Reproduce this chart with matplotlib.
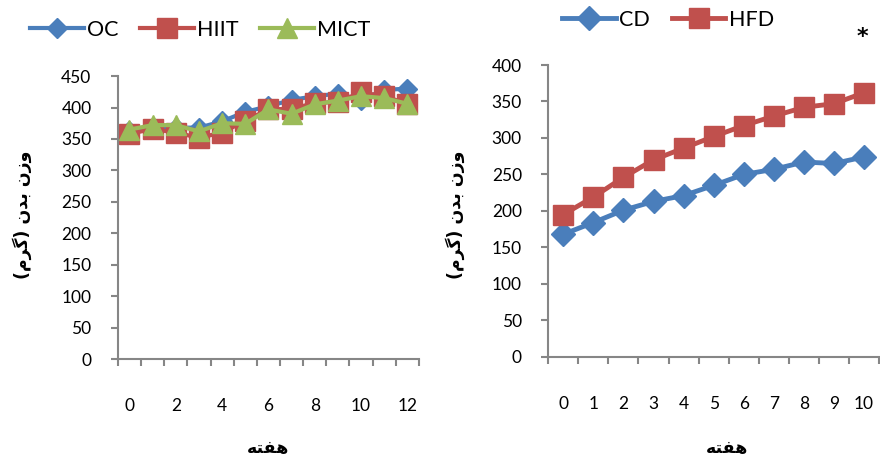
import matplotlib
matplotlib.use("Agg")
import matplotlib.pyplot as plt
import numpy as np

# ── data ────────────────────────────────────────────────────
weeks_left = list(range(13))
oc = [362, 368, 368, 368, 378, 393, 402, 412, 418, 422, 412, 428, 430]
hiit = [358, 366, 360, 352, 360, 379, 397, 398, 407, 409, 424, 418, 406]
mict = [365, 372, 372, 362, 375, 374, 397, 390, 405, 411, 418, 415, 406]

weeks_right = list(range(11))
cd = [168, 184, 201, 213, 221, 235, 250, 257, 267, 265, 274]
hfd = [195, 219, 246, 270, 286, 302, 317, 330, 342, 347, 362]

left_xlabels = ["0", "2", "4", "6", "8", "10", "12"]

# Arabic text written in visual order with presentation forms (no shaping in mpl)
xlabel_fa = "\uFEEA\uFE98\uFED4\uFEEB"  # هفته
ylabel_fa = "(\uFEE1\uFEAE\uFB94) \uFEE5\uFEAA\uFE91 \uFEE5\uFEAF\uFEED"  # وزن بدن (گرم)

BLUE = "#4a7ebb"
RED = "#c0504d"
GREEN = "#9bbb59"
GRAY = "#868686"

plt.rcParams["font.family"] = ["Lato", "DejaVu Sans"]

fig = plt.figure(figsize=(8.8, 4.61), dpi=100)
fig.patch.set_facecolor("white")

ax1 = fig.add_axes([0.134, 0.221, 0.342, 0.614])
ax2 = fig.add_axes([0.623, 0.226, 0.376, 0.633])


def style_axis(ax, n, ymax):
    for s in ("top", "right"):
        ax.spines[s].set_visible(False)
    for s in ("left", "bottom"):
        ax.spines[s].set_color(GRAY)
        ax.spines[s].set_linewidth(1.5)
    ax.set_xlim(-0.5, n - 0.5)
    ax.set_ylim(0, ymax)
    ax.set_yticks(np.arange(0, ymax + 1, 50))
    ax.tick_params(axis="y", direction="out", length=5, width=1.5,
                   color=GRAY, labelsize=12.5, pad=14)
    ax.set_xticks(np.arange(-0.5, n, 1.0), minor=True)
    ax.tick_params(axis="x", which="minor", direction="out", length=5,
                   width=1.5, color=GRAY)
    ax.tick_params(axis="x", which="major", length=0, labelsize=12.5, pad=28)


# ── left panel ──────────────────────────────────────────────
ax1.plot(weeks_left, oc, color=BLUE, lw=3, marker="D", ms=10, label="OC")
ax1.plot(weeks_left, hiit, color=RED, lw=3, marker="s", ms=14, label="HIIT")
ax1.plot(weeks_left, mict, color=GREEN, lw=3, marker="^", ms=15, label="MICT")
style_axis(ax1, len(weeks_left), 450)
ax1.set_xticks(weeks_left[::2])
ax1.set_xticklabels(left_xlabels)

fig.legend(*ax1.get_legend_handles_labels(), loc="center left",
           bbox_to_anchor=(0.012, 0.935), ncol=3, frameon=False,
           fontsize=15.5, handlelength=2.5, handletextpad=0.15,
           columnspacing=1.0)

# ── right panel ─────────────────────────────────────────────
ax2.plot(weeks_right, cd, color=BLUE, lw=3.5, marker="D", ms=12, label="CD")
ax2.plot(weeks_right, hfd, color=RED, lw=3.5, marker="s", ms=14, label="HFD")
style_axis(ax2, len(weeks_right), 400)
ax2.set_xticks(weeks_right)
ax2.set_xticklabels([str(w) for w in weeks_right])

fig.legend(*ax2.get_legend_handles_labels(), loc="center left",
           bbox_to_anchor=(0.617, 0.957), ncol=2, frameon=False,
           fontsize=15.5, handlelength=2.5, handletextpad=0.15,
           columnspacing=1.0)

fig.text(862 / 880, 1 - 37 / 461, "*", fontsize=16, fontweight="bold",
         ha="center", va="center", family="DejaVu Sans")

# axis titles
for x in (22, 455):
    fig.text(x / 880, 1 - 215 / 461, ylabel_fa, rotation=90, fontsize=12.5,
             fontweight="bold", ha="center", va="center", family="DejaVu Sans")
for x in (268, 727):
    fig.text(x / 880, 1 - 448 / 461, xlabel_fa, fontsize=12.5,
             fontweight="bold", ha="center", va="center", family="DejaVu Sans")

fig.savefig("out.png", dpi=100, facecolor="white")
